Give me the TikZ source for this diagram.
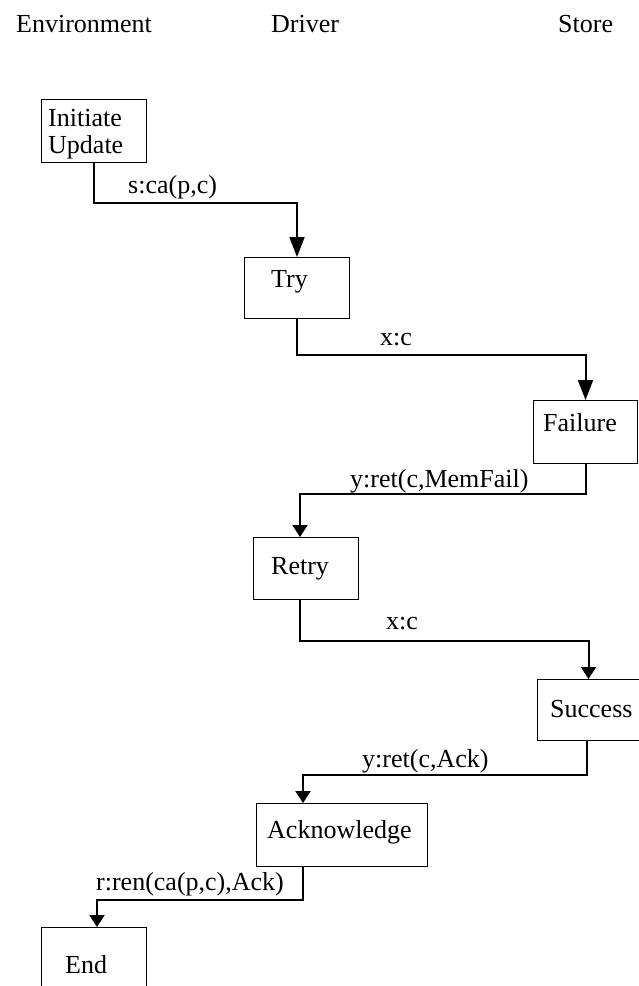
\documentclass[tikz,border=0pt]{standalone}
\usepackage{fontspec}
\setmainfont{Liberation Serif}
\usetikzlibrary{arrows.meta,calc}
\begin{document}
\begin{tikzpicture}[x=1pt,y=-1pt,
  box/.style={draw,line width=1pt,inner sep=0pt,anchor=north west},
  lbl/.style={anchor=base west,inner sep=0pt,font=\fontsize{26}{27}\selectfont},
  conn/.style={line width=2pt},
  longtip/.style={-{Triangle[length=20pt,width=15pt]}},
  shorttip/.style={-{Triangle[length=12pt,width=15pt]}}]
\useasboundingbox[fill=white] (0,0) rectangle (639,986);
% lane headers
\node[lbl] (henv) at (16,32) {Environment};
\node[lbl] (hdrv) at (271,32) {Driver};
\node[lbl] (hsto) at (558,32) {Store};
% boxes
\node[box,minimum width=105pt,minimum height=63pt] (init) at (41,99) {};
\node[lbl,anchor=north west,align=left] (initt) at (48,109.5) {Initiate\\Update};
\node[box,minimum width=105pt,minimum height=61pt] (try) at (244,257) {};
\node[lbl] (tryt) at (271,287) {Try};
\node[box,minimum width=104pt,minimum height=63pt] (fail) at (533,400) {};
\node[lbl] (failt) at (543,431) {Failure};
\node[box,minimum width=105pt,minimum height=62pt] (retry) at (253,537) {};
\node[lbl] (retryt) at (271,574) {Retry};
\node[box,minimum width=102pt,minimum height=61pt] (succ) at (537,679) {};
\node[lbl] (succt) at (550,717) {Success};
\node[box,minimum width=171pt,minimum height=63pt] (ack) at (256,803) {};
\node[lbl] (ackt) at (267,838) {Acknowledge};
\node[box,minimum width=105pt,minimum height=70pt] (end) at (41,927) {};
\node[lbl] (endt) at (65,973) {End};
% connectors
\draw[conn,longtip] (init.south) -- ++(0,40) -| (try.north);
\draw[conn,longtip] (try.south) -- ++(0,36) -| (fail.north);
\draw[conn,shorttip] (fail.south) -- ++(0,30) -| ([xshift=-6pt]retry.north);
\draw[conn,shorttip] ([xshift=-6pt]retry.south) -- ++(0,41) -| (succ.north);
\draw[conn,shorttip] ([xshift=-2pt]succ.south) -- ++(0,34) -| ([xshift=47pt]ack.north west);
\draw[conn,shorttip] ([xshift=47pt]ack.south west) -- ++(0,33) -| ([xshift=56pt]end.north west);
% connector labels
\node[lbl] (l1) at (128,193) {s:ca(p,c)};
\node[lbl] (l2) at (380,345) {x:c};
\node[lbl] (l3) at (350,487) {y:ret(c,MemFail)};
\node[lbl] (l4) at (386,629) {x:c};
\node[lbl] (l5) at (362,767) {y:ret(c,Ack)};
\node[lbl] (l6) at (96,890) {r:ren(ca(p,c),Ack)};
\end{tikzpicture}
\end{document}
